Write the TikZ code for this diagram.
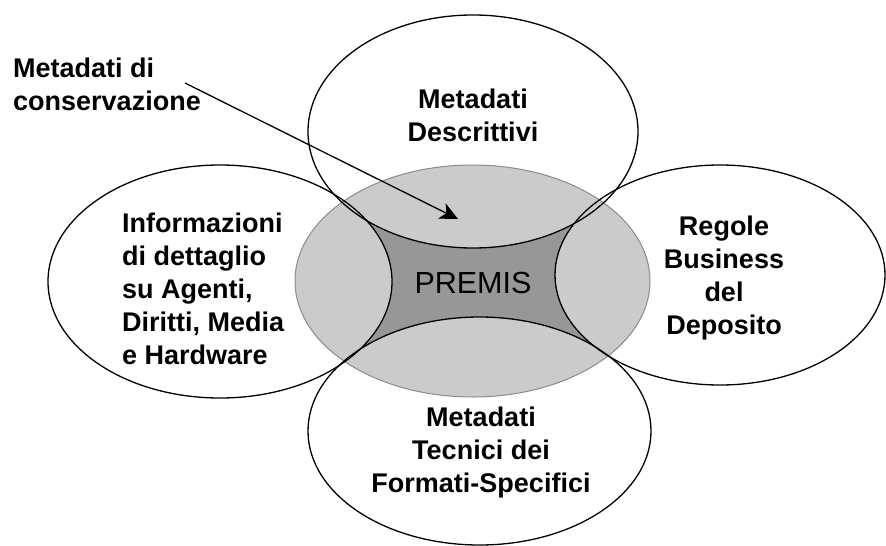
\documentclass[tikz,border=0pt]{standalone}
\usepackage{fontspec}
\setmainfont{Liberation Sans}
\usetikzlibrary{arrows.meta}
\definecolor{lightfill}{HTML}{CBCBCB}
\definecolor{darkfill}{HTML}{979797}
\definecolor{rimgray}{HTML}{8C8C8C}
\begin{document}
\begin{tikzpicture}[x=1pt,y=-1pt,
  ring/.style={draw=black,line width=1.3pt},
  rim/.style={draw=rimgray,line width=1pt},
  lbl/.style={font=\fontsize{27}{33}\selectfont\bfseries,inner sep=0pt,align=center},
  pointer/.style={line width=1.3pt,-{Stealth[length=18pt,width=17pt,inset=5pt]}}
]
\useasboundingbox[fill=white] (0,0) rectangle (886,546);
% central ellipse
\fill[lightfill] (472.5,281) ellipse [x radius=177.5pt, y radius=116pt];
\begin{scope}
  \clip (472.5,281) ellipse [x radius=177.5pt, y radius=116pt];
  \fill[darkfill] (472.5,281) ellipse [x radius=177.5pt, y radius=116pt];
  \fill[lightfill] (473,131.5) ellipse [x radius=165pt, y radius=116.5pt];
  \fill[lightfill] (479.5,431) ellipse [x radius=171.5pt, y radius=114pt];
  \fill[lightfill] (220,281.5) ellipse [x radius=172pt, y radius=116.5pt];
  \fill[lightfill] (720,275) ellipse [x radius=165pt, y radius=110pt];
\end{scope}
\draw[rim] (472.5,281) ellipse [x radius=177.5pt, y radius=116pt];
% outer ellipses
\draw[ring] (473,131.5) ellipse [x radius=165pt, y radius=116.5pt];
\draw[ring] (479.5,431) ellipse [x radius=171.5pt, y radius=114pt];
\draw[ring] (220,281.5) ellipse [x radius=172pt, y radius=116.5pt];
\draw[ring] (720,275) ellipse [x radius=165pt, y radius=110pt];
% labels
\node[lbl,align=left,anchor=west] (cons) at (13,84) {Metadati di\\conservazione};
\node[lbl] (desc) at (473,115.5) {Metadati\\Descrittivi};
\node[lbl,align=left,anchor=west] (info) at (122,289) {Informazioni\\di dettaglio\\su Agenti,\\Diritti, Media\\e Hardware};
\node[lbl] (rego) at (724,278) {Regole\\Business\\del\\Deposito};
\node[font=\fontsize{30.5}{36}\selectfont,inner sep=0pt] (premis) at (473,282.5) {PREMIS};
\node[lbl] (tecn) at (481,453) {Metadati\\Tecnici dei\\Formati-Specifici};
% arrow
\coordinate (arrS) at (185,83);
\coordinate (arrE) at (458,219);
\draw[pointer] (arrS) -- (arrE);
\end{tikzpicture}
\end{document}
